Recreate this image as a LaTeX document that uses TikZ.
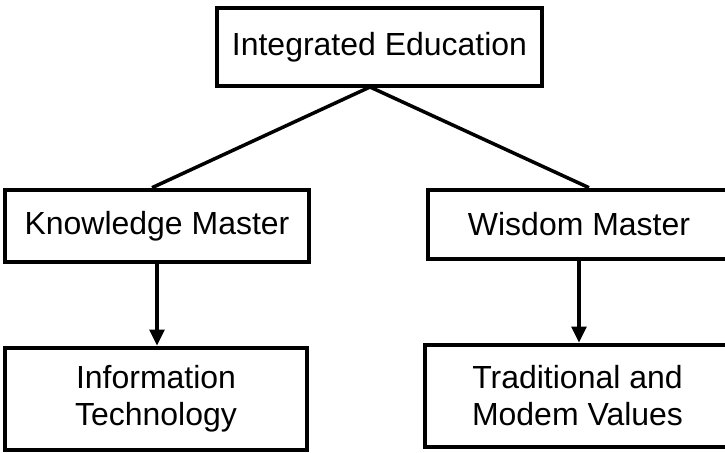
\documentclass[tikz,border=0pt]{standalone}
\usepackage{fontspec}
\setmainfont{Liberation Sans}
\usetikzlibrary{arrows.meta}

\begin{document}
\begin{tikzpicture}
        [-,line width=2pt,every node/.style={shape=rectangle,draw,
        line width=2.6pt,align=center,inner sep=2pt,
        font=\fontsize{18.2}{21}\selectfont},
        arr/.style={-{Triangle[length=0.32cm,width=0.29cm]}}]
        \useasboundingbox (0,0) rectangle (14.5,9.04);
        \node[minimum width=6.5cm,minimum height=1.56cm] (edu) at (7.59,8.10) {Integrated Education};
        %%
        \node[minimum width=6.08cm,minimum height=1.44cm] (know) at (3.14,4.52) {Knowledge Master};
        \node[minimum width=6.04cm,minimum height=1.38cm] (wis) at (11.58,4.55) {Wisdom Master};
        %%
        \node[minimum width=6.04cm,minimum height=2.04cm] (info) at (3.12,1.06) {Information\\Technology};
        \node[minimum width=6.1cm,minimum height=2.04cm] (trad) at (11.55,1.12) {Traditional and\\Modem Values};
        \coordinate (split) at (7.4,7.3);
        \coordinate (knowTop) at ([xshift=-0.1cm]know.north);
        \coordinate (wisTop) at ([xshift=0.2cm]wis.north);
        \path
        \foreach \startNode/\endNode in {split/knowTop, split/wisTop}
        {
          (\startNode) edge (\endNode)
        };
        \draw[arr] (know.south) -- (know.south |- info.north);
        \draw[arr] (wis.south) -- (wis.south |- trad.north);
        \end{tikzpicture}
\end{document}
